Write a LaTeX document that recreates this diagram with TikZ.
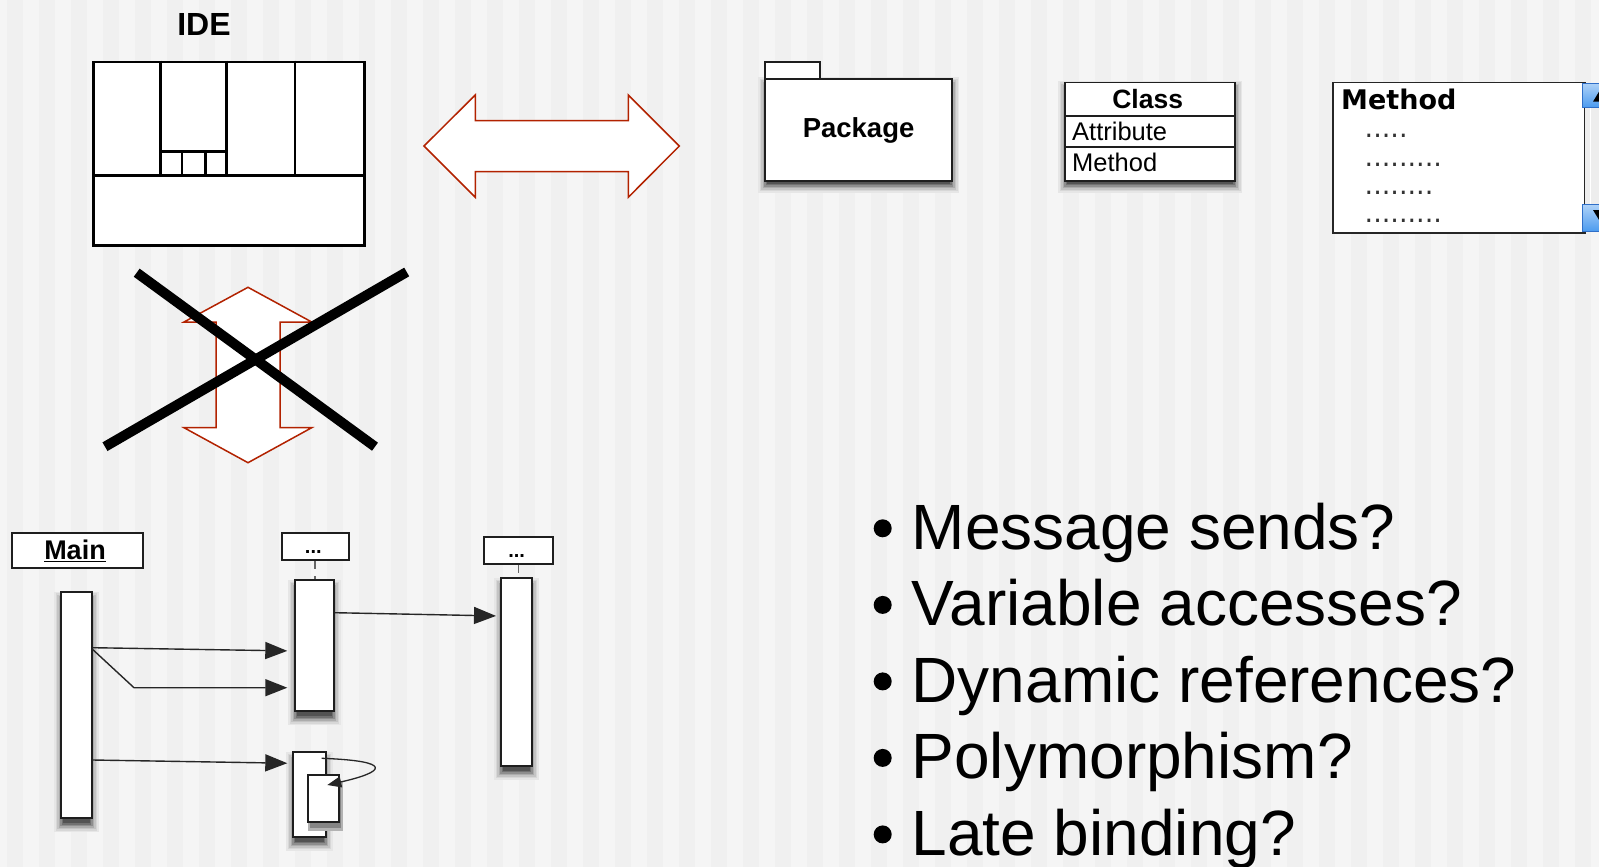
\documentclass[tikz,border=0pt]{standalone}
\usepackage{fontspec}
\setmainfont{Liberation Sans}
\newfontfamily\verdanalike{DejaVu Sans}
\usetikzlibrary{arrows.meta}

\definecolor{bgA}{HTML}{F5F5F5}
\definecolor{bgB}{HTML}{F0F0F0}
\definecolor{arrowred}{RGB}{178,34,0}
\definecolor{boxline}{HTML}{1E1E1E}
\definecolor{scrollblue}{HTML}{4C9BEF}
\definecolor{scrolledge}{HTML}{2F6FC8}
\definecolor{tracklight}{HTML}{EDEDED}

\pgfdeclarelayer{stripes}
\pgfdeclarelayer{shade}
\pgfsetlayers{stripes,shade,main}

% soft drop shadow under a named box: graded rings, light outside, dark inside
\newcommand{\dropshade}[2][6]{%
  \begin{pgfonlayer}{shade}
    \foreach \s/\g in {6/6,4.5/12,3/20,1.5/30,0/42,-1.5/54,-3/66}
      \fill[black!\g!bgA]
        ([shift={({-\s pt},{\s pt-#1 pt})}]#2.north west) rectangle
        ([shift={({\s pt},{-\s pt-#1 pt})}]#2.south east);
  \end{pgfonlayer}}

\begin{document}
\begin{tikzpicture}[x=1pt,y=-1pt,
  idebox/.style={draw=black, line width=2.7pt, fill=white, rectangle, inner sep=0pt, anchor=north west},
  ideline/.style={draw=black, line width=2.7pt},
  bigarrow/.style={draw=arrowred, fill=white, line width=1.5pt, line join=miter},
  cross/.style={draw=black, line width=10pt},
  plainbox/.style={draw=boxline, fill=white, line width=1.8pt, rectangle, inner sep=0pt, anchor=north west},
  msg/.style={draw=black!85, line width=1.4pt, -{Triangle[length=22pt,width=17pt]}},
  selfmsg/.style={draw=black!85, line width=1.3pt, -{Triangle[length=14pt,width=11pt]}},
  lifestub/.style={draw=black!60, line width=1.8pt, dash pattern=on 8pt off 7pt},
  boldlabel/.style={font=\bfseries\fontsize{#1}{#1}\selectfont, inner sep=0pt},
  textlabel/.style={font=\fontsize{#1}{#1}\selectfont, inner sep=0pt},
  bullettext/.style={font=\fontsize{64}{77}\selectfont, inner sep=0pt, anchor=base west},
  bulletdot/.style={fill=black, circle, inner sep=0pt, minimum size=18pt}
]
\useasboundingbox (0,0) rectangle (1599,867);

% striped backdrop
\begin{pgfonlayer}{stripes}
\fill[bgA] (0,0) rectangle (1599,867);
\foreach \i in {0,...,49}
  \fill[bgB] ({7.3+32*\i},0) rectangle ({23.3+32*\i},867);
\end{pgfonlayer}

% ---------- IDE window sketch ----------
\node[boldlabel=32] (idelabel) at (204,24.3) {IDE};
\node[idebox, minimum width=271pt, minimum height=183.3pt] (ide) at (92,60.7) {};
\draw[ideline] (92,175.7) -- (363,175.7);
\draw[ideline] (160.3,60.7) -- (160.3,175.7);
\draw[ideline] (226.7,60.7) -- (226.7,175.7);
\draw[ideline] (295,60.7) -- (295,175.7);
\draw[ideline] (160.3,151.7) -- (226.7,151.7);
\draw[ideline] (182,151.7) -- (182,175.7);
\draw[ideline] (205.3,151.7) -- (205.3,175.7);

% ---------- block arrows ----------
\draw[bigarrow] (424,146) -- (475.3,95) -- (475.3,120.7) -- (628.3,120.7) -- (628.3,95)
  -- (679.3,146) -- (628.3,197.3) -- (628.3,171.7) -- (475.3,171.7) -- (475.3,197.3) -- cycle;
\draw[bigarrow] (248,287.3) -- (311.7,322) -- (280,322) -- (280,427.7) -- (311.7,427.7)
  -- (248,462.7) -- (184,427.7) -- (216,427.7) -- (216,322) -- (184,322) -- cycle;
\draw[cross] (136.7,272.7) -- (375,446.7);
\draw[cross] (406.7,272) -- (105,446.7);

% ---------- package ----------
\node[plainbox, minimum width=55.3pt, minimum height=17.3pt] (pkgtab) at (764,61) {};
\node[plainbox, minimum width=187.3pt, minimum height=101.7pt] (pkg) at (764,78.3) {};
\dropshade[5]{pkg}
\node[boldlabel=27.5] (pkglabel) at (pkg.center) {Package};

% ---------- class ----------
\node[plainbox, minimum width=170.3pt, minimum height=98.3pt] (cls) at (1064,81.7) {};
\dropshade[5]{cls}
\draw[draw=boxline, line width=1.8pt] (cls.west |- 0,115.7) -- (cls.east |- 0,115.7);
\draw[draw=boxline, line width=1.8pt] (cls.west |- 0,146.7) -- (cls.east |- 0,146.7);
\node[boldlabel=26.5] (clsname) at (1147.7,99.5) {Class};
\node[textlabel=25.5, anchor=base west] (clsattr) at (1072,140) {Attribute};
\node[textlabel=25.5, anchor=base west] (clsmeth) at (1072,171.5) {Method};

% ---------- method browser ----------
\node[draw=black!85, fill=white, line width=1.8pt, rectangle, inner sep=0pt, anchor=north west,
  minimum width=252.6pt, minimum height=150pt] (meth) at (1331.7,81.7) {};
\fill[tracklight] (1585.2,106.7) rectangle (1599,204);
\draw[draw=white, line width=1pt] (1590,106.7) -- (1590,204);
\node[draw=scrolledge, line width=1pt, top color=scrollblue!45, bottom color=scrollblue, rectangle,
  inner sep=0pt, anchor=north west, minimum width=20pt, minimum height=24pt] (upbtn) at (1582,82.7) {};
\node[draw=scrolledge, line width=1pt, top color=scrollblue!45, bottom color=scrollblue, rectangle,
  inner sep=0pt, anchor=north west, minimum width=20pt, minimum height=26.7pt] (downbtn) at (1582,204) {};
\fill[black] (1603,85) -- (1613,101.7) -- (1593,101.7) -- cycle;
\fill[black] (1593,210) -- (1613,210) -- (1603,226.5) -- cycle;
\node[font=\verdanalike\bfseries\fontsize{27}{27}\selectfont, inner sep=0pt, anchor=base west]
  (methname) at (1341,109.3) {Method};
\foreach \row/\dots in {137.5/{.....}, 166/{.........}, 194/{........}, 222.7/{.........}}
  \node[font=\verdanalike\fontsize{27}{27}\selectfont, text=black!80, inner sep=0pt, anchor=base west]
    at (1364.5,\row) {\dots};

% ---------- sequence diagram ----------
\node[plainbox, minimum width=130.7pt, minimum height=34.4pt] (mainhead) at (11,532.3) {};
\node[boldlabel=27, anchor=base] (mainlabel) at (75,559.3) {\underline{Main}};
\node[plainbox, minimum width=66.7pt, minimum height=27pt] (headtwo) at (281,532.3) {};
\node[boldlabel=20, anchor=base] (headtwolabel) at (313.3,553.5) {...};
\node[plainbox, minimum width=68.4pt, minimum height=27.3pt] (headthree) at (483.3,536) {};
\node[boldlabel=20, anchor=base] (headthreelabel) at (516.7,557) {...};

\node[plainbox, minimum width=30.4pt, minimum height=226.6pt] (mainact) at (60.3,590.7) {};
\node[plainbox, minimum width=38.7pt, minimum height=131pt] (acttwo) at (294,579.3) {};
\node[plainbox, minimum width=30.7pt, minimum height=187.7pt] (actthree) at (500,577.3) {};
\node[plainbox, minimum width=32.7pt, minimum height=85pt] (callouter) at (292.3,751) {};
\dropshade[7]{mainact}
\dropshade[7]{acttwo}
\dropshade[7]{actthree}
\dropshade[7]{callouter}
% nested activation carries its own shadow over the outer one
\fill[black!30!white] (308,781) rectangle (343,831);
\fill[black!48!white] (310,783) rectangle (341,828);
\node[plainbox, minimum width=31pt, minimum height=46.7pt] (callinner) at (307.3,774.3) {};

\draw[lifestub] (headtwo.south) -- (headtwo.south |- acttwo.north);
\draw[lifestub] (headthree.south) -- (headthree.south |- actthree.north);

\coordinate (bend) at (134,687.7);
\draw[msg, shorten >=6.7pt] (mainact.east |- 0,647.7) -- (acttwo.west |- 0,651);
\draw[msg, shorten >=6.7pt] (mainact.east |- 0,649.3) -- (bend) -- (acttwo.west |- 0,687.7);
\draw[msg, shorten >=5pt] (mainact.east |- 0,760) -- (callouter.west |- 0,763.3);
\draw[msg, shorten >=4pt] (acttwo.east |- 0,612.7) -- (actthree.west |- 0,616);

\coordinate (selfout) at (321.7,758.3);
\coordinate (selfin) at (327.3,785);
\draw[selfmsg] (selfout) .. controls (395,761) and (385,772) .. (selfin);

% ---------- questions ----------
\node[bulletdot] (b1) at (882.7,528.3) {};
\node[bulletdot] (b2) at (882.7,604.9) {};
\node[bulletdot] (b3) at (882.7,681.4) {};
\node[bulletdot] (b4) at (882.7,757.9) {};
\node[bulletdot] (b5) at (882.7,834.4) {};
\node[bullettext] (q1) at (911.5,549.3) {Message sends?};
\node[bullettext] (q2) at (911.5,625.9) {Variable accesses?};
\node[bullettext] (q3) at (911.5,702.4) {Dynamic references?};
\node[bullettext] (q4) at (911.5,778.9) {Polymorphism?};
\node[bullettext] (q5) at (911.5,855.4) {Late binding?};
\end{tikzpicture}
\end{document}
